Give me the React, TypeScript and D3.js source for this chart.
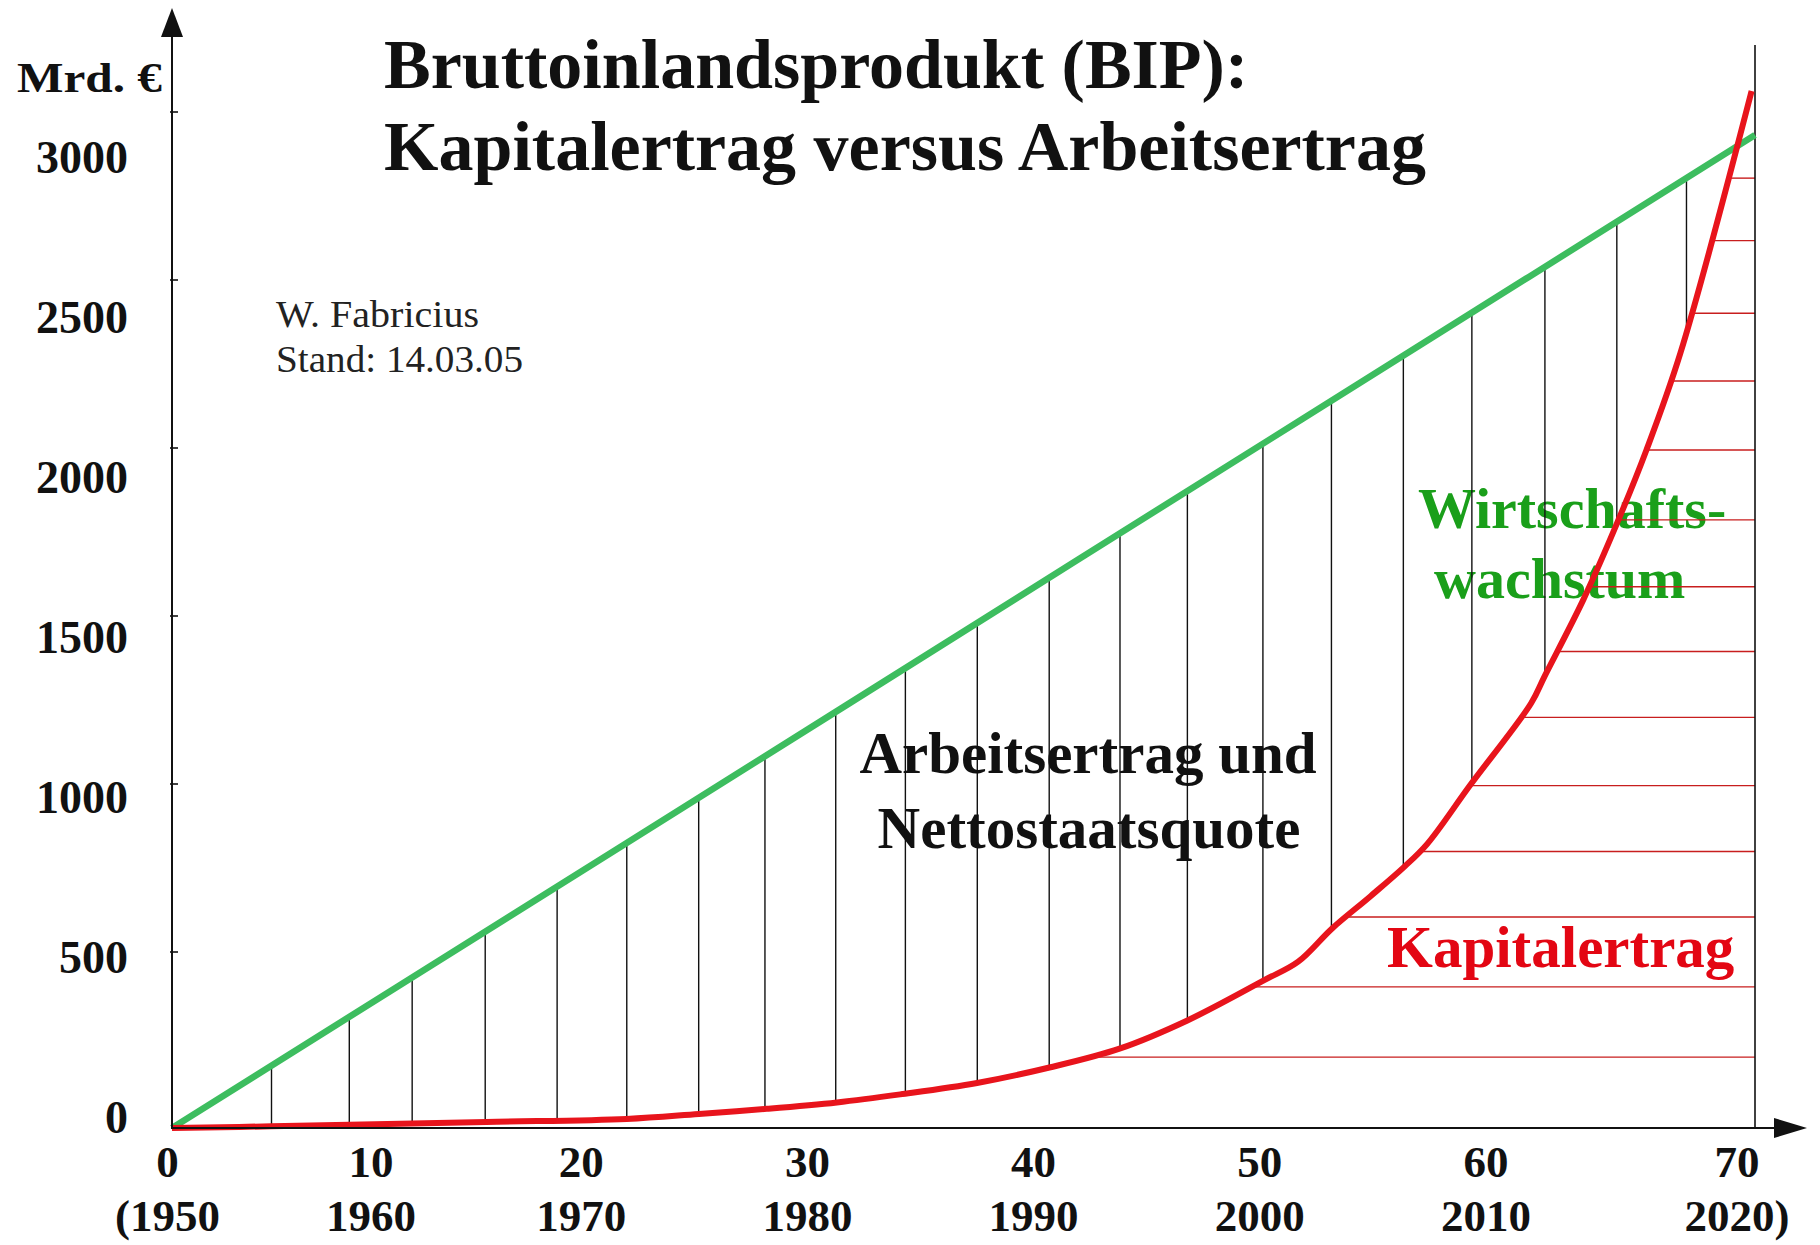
import React from 'react';
import * as d3 from 'd3';

const W = 1820;
const H = 1245;

// x = years after 1950, y = Mrd. €
const bipYears = [0, 10, 20, 30, 40, 50, 60, 70];
const bipValues = [0, 422, 844, 1266, 1689, 2111, 2533, 2955];

const kapitalYears = [0, 4.4, 13.9, 20.1, 23.3, 26.3, 29.4, 32.2, 35.6, 38.8, 41.9, 44.9, 48.3, 49.8, 51.3, 53.0, 54.5, 55.5, 57.4, 60.1, 60.7, 62.4, 63.9, 65.2, 66.7, 69.85];
const kapitalValues = [0, 5, 18, 27, 42, 57, 76, 100, 134, 180, 236, 320, 440, 495, 594, 690, 778, 845, 1020, 1264, 1345, 1571, 1800, 2018, 2306, 3086];

// vertical black hatching between the two curves (years)
const hatchYears = [4.4, 7.84, 10.62, 13.85, 17.03, 20.11, 23.29, 26.22, 29.35, 32.43, 35.61, 38.79, 41.92, 44.9, 48.24, 51.27, 54.45, 57.48, 60.71, 63.89, 66.97];
// horizontal red hatching right of the Kapitalertrag curve (Mrd. €)
const kapitalLevels = [211, 420, 628, 823, 1019, 1222, 1418, 1611, 1810, 2018, 2223, 2425, 2641, 2827];

const yTicks = [0, 500, 1000, 1500, 2000, 2500, 3000];
const yTickMarks = [500, 1000, 1500, 2000, 2500, 3000];
const xTickLabels = ['0', '10', '20', '30', '40', '50', '60', '70'];
const xYearLabels = ['(1950', '1960', '1970', '1980', '1990', '2000', '2010', '2020)'];
// the labels in the original sit a little left of their real position
const xLabelAt = [-0.2, 8.8, 18.1, 28.1, 38.1, 48.1, 58.1, 69.2];

const serif = "'Liberation Serif', 'Times New Roman', serif";

export default function App() {
  const x = d3.scaleLinear().domain([0, 70]).range([172, 1755]);
  const y = d3.scaleLinear().domain([0, 3000]).range([1128, 120]);
  // tick labels are spaced slightly tighter than the ticks
  const yLabel = d3.scaleLinear().domain([0, 3000]).range([1133, 173]);

  const kapitalAt = d3.scaleLinear().domain(kapitalYears).range(kapitalValues);
  const yearAtKapital = d3.scaleLinear().domain(kapitalValues).range(kapitalYears);
  const bipAt = d3.scaleLinear().domain(bipYears).range(bipValues);

  const bipLine = d3.line<number>()
    .x((_, i) => x(bipYears[i]))
    .y(d => y(d))(bipValues);

  const kapitalLine = d3.line<number>()
    .x((_, i) => x(kapitalYears[i]))
    .y(d => y(d))
    .curve(d3.curveCatmullRom.alpha(0.5))(kapitalValues);

  const x0 = x(0);
  const y0 = y(0);

  return (
    <div style={{ position: 'absolute', left: 0, top: 0 }}>
      <svg width={W} height={H} style={{ display: 'block', background: '#fff' }} fontFamily={serif}>
        {/* title */}
        <text x={384} y={88} fontSize={70} fontWeight="bold" fill="#111">Bruttoinlandsprodukt (BIP):</text>
        <text x={384} y={170} fontSize={70} fontWeight="bold" fill="#111">Kapitalertrag versus Arbeitsertrag</text>

        <text x={276} y={327} fontSize={37} fill="#222" textLength={203} lengthAdjust="spacingAndGlyphs">W. Fabricius</text>
        <text x={276} y={372} fontSize={37} fill="#222" textLength={247} lengthAdjust="spacingAndGlyphs">Stand: 14.03.05</text>

        {/* area labels */}
        <text x={1088} y={773} fontSize={59} fontWeight="bold" fill="#111" textAnchor="middle">Arbeitsertrag und</text>
        <text x={1089} y={848} fontSize={59} fontWeight="bold" fill="#111" textAnchor="middle">Nettostaatsquote</text>
        <text x={1418} y={528} fontSize={58} fontWeight="bold" fill="#1a9f1a">Wirtschafts-</text>
        <text x={1434} y={598} fontSize={58} fontWeight="bold" fill="#1a9f1a">wachstum</text>
        <text x={1387} y={967} fontSize={59} fontWeight="bold" fill="#e30613">Kapitalertrag</text>

        {/* vertical hatching */}
        <g stroke="#111" strokeWidth={1.4}>
          {hatchYears.map((t, i) => (
            <line key={i} x1={x(t)} x2={x(t)} y1={y(bipAt(t))} y2={y(kapitalAt(t))} />
          ))}
        </g>

        {/* horizontal hatching */}
        <g stroke="#c81e1e" strokeWidth={1.4}>
          {kapitalLevels.map((v, i) => (
            <line key={i} x1={x(yearAtKapital(v))} x2={x(70)} y1={y(v)} y2={y(v)} />
          ))}
        </g>

        {/* right frame */}
        <line x1={x(70)} x2={x(70)} y1={y0} y2={45} stroke="#111" strokeWidth={1.6} />

        <path d={bipLine || ''} fill="none" stroke="#3dbd5f" strokeWidth={6.5} />
        <path d={kapitalLine || ''} fill="none" stroke="#e8141c" strokeWidth={6} strokeLinejoin="round" />

        {/* axes */}
        <line x1={x0} x2={x0} y1={y0 + 1} y2={36} stroke="#111" strokeWidth={2} />
        <polygon points={`${x0},8 ${x0 - 11},37 ${x0 + 11},37`} fill="#111" />
        <line x1={x0 - 1} x2={1776} y1={y0} y2={y0} stroke="#111" strokeWidth={2} />
        <polygon points={`1807,${y0} 1774,${y0 - 10} 1774,${y0 + 10}`} fill="#111" />

        <g stroke="#111" strokeWidth={1.6}>
          {yTickMarks.map(v => (
            <line key={v} x1={x0 - 2} x2={x0 + 6} y1={y(v) - 8} y2={y(v) - 8} />
          ))}
        </g>

        <text x={17} y={92} fontSize={42} fontWeight="bold" fill="#111" textLength={145} lengthAdjust="spacingAndGlyphs">Mrd. €</text>

        <g fontSize={46} fontWeight="bold" fill="#111" textAnchor="end">
          {yTicks.map(v => (
            <text key={v} x={128} y={yLabel(v)}>{v}</text>
          ))}
        </g>

        <g fontSize={45} fontWeight="bold" fill="#111" textAnchor="middle">
          {xTickLabels.map((s, i) => (
            <text key={s} x={x(xLabelAt[i])} y={1177}>{s}</text>
          ))}
          {xYearLabels.map((s, i) => (
            <text key={s} x={x(xLabelAt[i])} y={1231}>{s}</text>
          ))}
        </g>
      </svg>
    </div>
  );
}
